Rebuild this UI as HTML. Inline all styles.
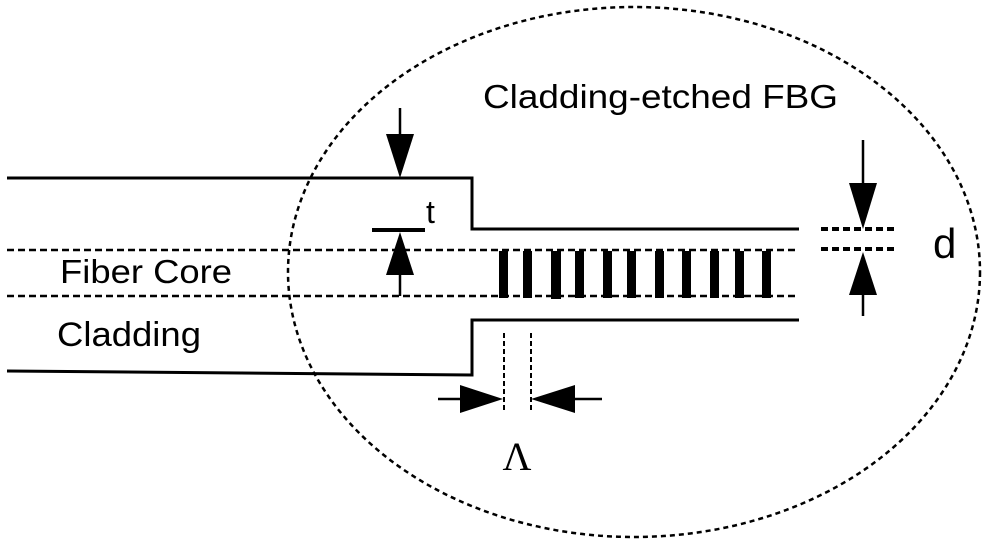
<!DOCTYPE html>
<html><head><style>html,body{margin:0;padding:0;background:#fff}svg{display:block}</style></head>
<body>
<svg width="1000" height="551" viewBox="0 0 1000 551" xmlns="http://www.w3.org/2000/svg">
<ellipse cx="634" cy="272" rx="346" ry="265" fill="none" stroke="#000" stroke-width="2.5" stroke-dasharray="5,4"/>
<g stroke="#000" stroke-width="3" fill="none">
<polyline points="7,178 472,178 472,229 799,229"/>
<polyline points="7,371 472,375 472,320 799,320"/>
</g>
<g stroke="#000" stroke-width="2.5" stroke-dasharray="7,4" fill="none">
<line x1="7" y1="250" x2="799" y2="250"/>
<line x1="7" y1="296" x2="799" y2="296"/>
</g>
<g fill="#000">
<rect x="499" y="251" width="9" height="47"/>
<rect x="523" y="251" width="9" height="47"/>
<rect x="551" y="251" width="10" height="48"/>
<rect x="575" y="251" width="9" height="47"/>
<rect x="603" y="251" width="9" height="47"/>
<rect x="627" y="251" width="9" height="47"/>
<rect x="655" y="251" width="9" height="47"/>
<rect x="682" y="251" width="9" height="47"/>
<rect x="710" y="251" width="9" height="47"/>
<rect x="735" y="251" width="9" height="47"/>
<rect x="762" y="251" width="9" height="47"/>
</g>
<g stroke="#000" stroke-width="2.5">
<line x1="400" y1="108" x2="400" y2="140"/>
<line x1="400" y1="270" x2="400" y2="296"/>
<line x1="372" y1="230" x2="425" y2="230" stroke-width="4"/>
<line x1="863" y1="140" x2="863" y2="185"/>
<line x1="863" y1="290" x2="863" y2="316"/>
<line x1="438" y1="399" x2="470" y2="399"/>
<line x1="570" y1="399" x2="602" y2="399"/>
</g>
<g fill="#000">
<polygon points="386,134 414,134 400,178"/>
<polygon points="386,275 414,275 400,232"/>
<polygon points="849,183 877,183 863,229"/>
<polygon points="849,295 877,295 863,252"/>
<polygon points="460,385 460,413 503,399"/>
<polygon points="575,385 575,413 531,399"/>
</g>
<g stroke="#000" stroke-width="4" stroke-dasharray="7,4">
<line x1="821" y1="229" x2="898" y2="229"/>
<line x1="821" y1="249" x2="898" y2="249"/>
</g>
<g stroke="#000" stroke-width="2" stroke-dasharray="5,3">
<line x1="504" y1="333" x2="504" y2="410"/>
<line x1="531" y1="333" x2="531" y2="410"/>
</g>
<g font-family="Liberation Sans, sans-serif" fill="#000">
<text x="483" y="108" font-size="33" textLength="355" lengthAdjust="spacingAndGlyphs">Cladding-etched FBG</text>
<text x="60" y="283" font-size="33" textLength="172" lengthAdjust="spacingAndGlyphs">Fiber Core</text>
<text x="57" y="346" font-size="34" textLength="144" lengthAdjust="spacingAndGlyphs">Cladding</text>
<text x="426" y="223" font-size="32">t</text>
<text x="933" y="258" font-size="42">d</text>
</g>
<text x="517" y="470" font-size="40" font-family="Liberation Serif, serif" text-anchor="middle">Λ</text>
</svg>
</body></html>
